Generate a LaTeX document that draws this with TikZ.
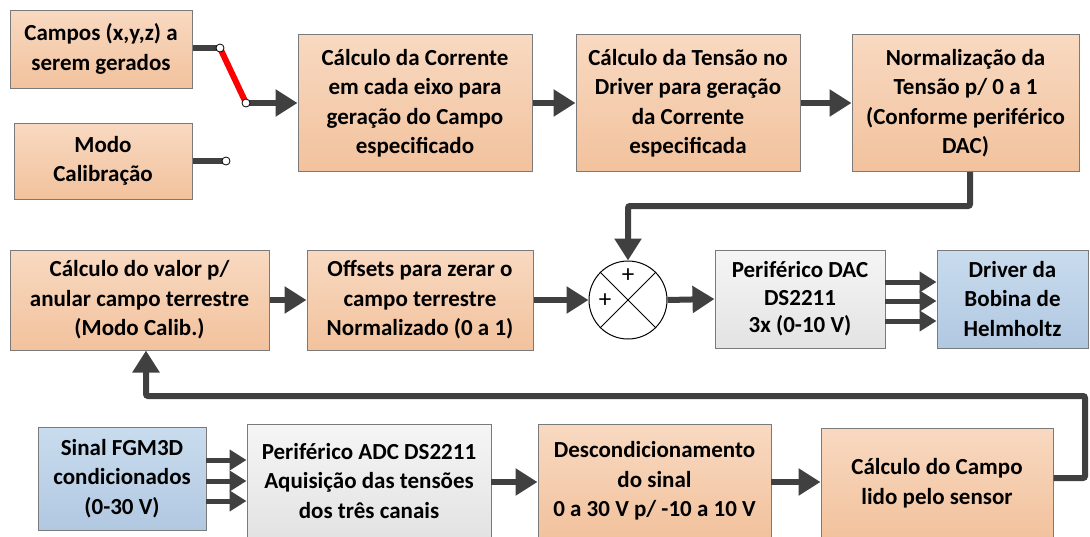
\documentclass[tikz,border=0pt]{standalone}
\usepackage{fontspec}
\setmainfont{Carlito}
\usetikzlibrary{arrows.meta}
\definecolor{otop}{HTML}{F8D9C1}
\definecolor{obot}{HTML}{F2C29D}
\definecolor{btop}{HTML}{C9DCEE}
\definecolor{bbot}{HTML}{B1C8E1}
\definecolor{gtop}{HTML}{F5F5F5}
\definecolor{gbot}{HTML}{E3E3E3}
\definecolor{bord}{HTML}{7A7A7A}
\definecolor{conc}{HTML}{404040}
\tikzset{
  blk/.style={draw=bord, line width=1pt, inner sep=0pt, align=center,
    font=\bfseries\fontsize{23}{29.5}\selectfont, anchor=center},
  ob/.style={blk, top color=otop, bottom color=obot},
  bb/.style={blk, top color=btop, bottom color=bbot},
  gb/.style={blk, top color=gtop, bottom color=gbot},
  conn/.style={draw=conc, line width=6pt, -{Triangle[length=22pt,width=26pt]}},
  thin conn/.style={draw=conc, line width=5pt, -{Triangle[length=17pt,width=20pt]}},
  plainline/.style={draw=conc, line width=6pt},
  swdot/.style={circle, draw=black, fill=white, line width=0.8pt, minimum size=8pt, inner sep=0pt},
  plus/.style={font=\fontsize{25}{25}\selectfont, inner sep=0pt},
}
\begin{document}
\begin{tikzpicture}[x=1pt,y=-1pt]
\useasboundingbox (0,0) rectangle (1090,536);
% top row
\node[ob, minimum width=182pt, minimum height=78pt] (campos) at (101,49) {Campos (x,y,z) a\\serem gerados};
\node[ob, minimum width=178pt, minimum height=76pt] (modo) at (103,161) {Modo\\Calibração};
\node[ob, minimum width=234pt, minimum height=137pt] (corr) at (415,103) {Cálculo da Corrente\\em cada eixo para\\geração do Campo\\especificado};
\node[ob, minimum width=224pt, minimum height=137pt] (tens) at (688,103) {Cálculo da Tensão no\\Driver para geração\\da Corrente\\especificada};
\node[ob, minimum width=227pt, minimum height=137pt] (norm) at (965.5,103) {Normalização da\\Tensão p/ 0 a 1\\(Conforme periférico\\DAC)};
% middle row
\node[ob, minimum width=259pt, minimum height=100pt] (valor) at (139.5,300) {Cálculo do valor p/\\anular campo terrestre\\(Modo Calib.)};
\node[ob, minimum width=226pt, minimum height=100pt] (offs) at (420,300) {Offsets para zerar o\\campo terrestre\\Normalizado (0 a 1)};
\node[circle, draw=black, line width=1pt, fill=white, minimum size=78pt, inner sep=0pt] (sum) at (628,300) {};
\node[gb, minimum width=170pt, minimum height=98pt, font=\bfseries\fontsize{23}{27.5}\selectfont] (dac) at (800,299) {Periférico DAC\\DS2211\\3x (0-10 V)};
\node[bb, minimum width=151pt, minimum height=98pt] (drv) at (1012.5,299) {Driver da\\Bobina de\\Helmholtz};
% bottom row
\node[bb, minimum width=168pt, minimum height=103pt] (sinal) at (122,478.5) {Sinal FGM3D\\condicionados\\(0-30 V)};
\node[gb, minimum width=244pt, minimum height=114pt] (adc) at (369,481) {Periférico ADC DS2211\\Aquisição das tensões\\dos três canais};
\node[ob, minimum width=233pt, minimum height=114pt] (desc) at (654.5,481) {Descondicionamento\\do sinal\\0 a 30 V p/ -10 a 10 V};
\node[ob, minimum width=232pt, minimum height=110pt] (campo) at (937,483) {Cálculo do Campo\\lido pelo sensor};
% sum junction details
\draw[line width=0.8pt] (sum.45) -- (sum.225) (sum.135) -- (sum.315);
\node[plus] (p1) at (628,276) {+};
\node[plus] (p2) at (605,301) {+};
% switch
\coordinate (s1) at (220,48);
\coordinate (s2) at (246,103);
\coordinate (s3) at (226,161);
\draw[plainline] (campos.east |- s1) -- (s1);
\draw[plainline] (modo.east |- s3) -- (s3);
\draw[red, line width=6pt] (s1) -- (s2);
\draw[conn] (s2) -- (corr.west |- s2);
\node[swdot] (d1) at (s1) {};
\node[swdot] (d2) at (s2) {};
\node[swdot] (d3) at (s3) {};
% top row arrows
\draw[conn] (corr.east) -- (tens.west);
\draw[conn] (tens.east) -- (norm.west);
% norm to sum
\coordinate (f1) at (970,206);
\draw[conn, rounded corners=2pt] (norm.south -| f1) -- (f1) -- (f1 -| sum.north) -- (sum.north);
% middle row
\draw[conn] (valor.east) -- (offs.west);
\draw[conn] (offs.east) -- (sum.west);
\draw[conn] (sum.east) -- (dac.west);
\foreach \yy/\nm in {282/a,301/b,321/c}{
  \coordinate (da\nm) at (885,\yy);
  \draw[thin conn] (da\nm) -- (drv.west |- da\nm);
}
% bottom row
\foreach \yy/\nm in {460/a,481/b,501/c}{
  \coordinate (sa\nm) at (206,\yy);
  \draw[thin conn] (sa\nm) -- (adc.west |- sa\nm);
}
\coordinate (b1) at (491,482);
\draw[conn] (b1) -- (desc.west |- b1);
\coordinate (b2) at (771,482);
\draw[conn] (b2) -- (campo.west |- b2);
% feedback
\coordinate (g1) at (1085,478);
\coordinate (g2) at (146,396);
\draw[conn, rounded corners=2pt] (campo.east |- g1) -- (g1) -- (g1 |- g2) -- (g2) -- (g2 |- valor.south);
\end{tikzpicture}
\end{document}
